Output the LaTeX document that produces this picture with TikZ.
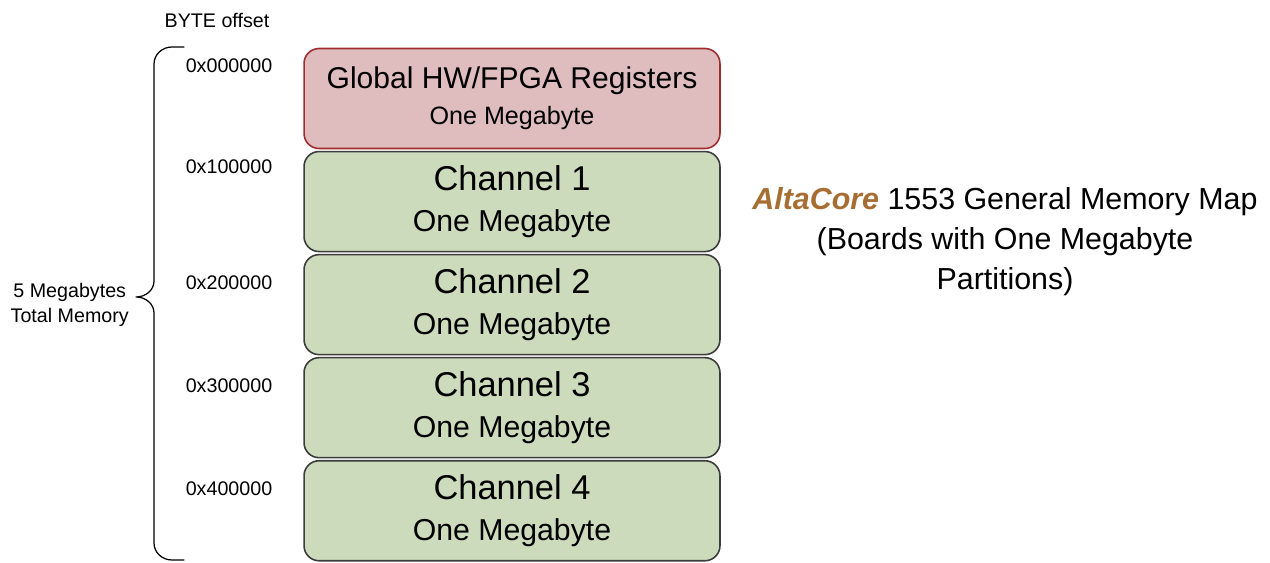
\documentclass[tikz,border=0pt]{standalone}
\usepackage{fontspec}
\setmainfont{Liberation Sans}
\usepackage{tikz}
\usetikzlibrary{positioning}
\definecolor{regfill}{RGB}{223,188,190}
\definecolor{regline}{RGB}{160,45,45}
\definecolor{chfill}{RGB}{205,219,189}
\definecolor{chline}{RGB}{60,60,60}
\definecolor{altabrown}{RGB}{166,110,50}

\begin{document}
\begin{tikzpicture}[line cap=round,line join=round,x=0.02cm,y=-0.02cm,
  membox/.style={draw,rounded corners=0.3cm,line width=0.9pt,minimum width=8.32cm,minimum height=2.0cm,align=center,inner sep=0pt},
  regbox/.style={fill=regfill,draw=regline},
  chbox/.style={fill=chfill,draw=chline},
  offs/.style={font=\fontsize{11.2}{14.5}\selectfont}]
\useasboundingbox (0,0) rectangle (1270,563);
% memory blocks
\node[membox,regbox] (regs) at (512,98.5) {\fontsize{17.1}{20.5}\selectfont Global HW/FPGA Registers\\[5.5pt]\fontsize{14.3}{20.5}\selectfont One Megabyte};
\foreach \n [count=\i, remember=\n as \prev (initially regs)] in {ch1,ch2,ch3,ch4}
  \node[membox,chbox,below=0.03cm of \prev] (\n) {\fontsize{19.6}{24}\selectfont Channel \i\\[9.5pt]\fontsize{17.2}{24}\selectfont One Megabyte};
% offsets
\node[offs] (bytehead) at (217,20) {BYTE offset};
\foreach \addr/\yy in {000000/66,100000/167,200000/283,300000/386,400000/489}
  \node[offs] (off\addr) at (229,\yy) {0x\addr};
% brace
\coordinate (btop) at (184,47);
\coordinate (btip) at (136,297);
\coordinate (bbot) at (184,560);
\draw[line width=0.7pt] (btop) -- (172,47) to[out=180,in=90] (154,64) -- (154,281)
  to[out=-90,in=0] (btip) to[out=0,in=90] (154,313) -- (154,543)
  to[out=-90,in=180] (172,560) -- (bbot);
\node[offs,align=center,anchor=east] (total) at (135,305) {5 Megabytes\\Total Memory};
% title
\node[align=center,font=\fontsize{17.3}{22.7}\selectfont] (title) at (1005,242)
  {\textcolor{altabrown}{\textbf{\textit{AltaCore}}} 1553 General Memory Map\\(Boards with One Megabyte\\Partitions)};
\end{tikzpicture}
\end{document}
